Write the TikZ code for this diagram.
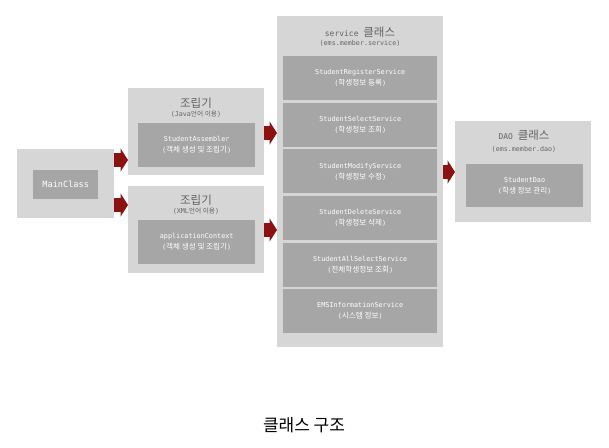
\documentclass[tikz,border=0pt]{standalone}
\usepackage{fontspec}
\usetikzlibrary{arrows.meta}
\newfontfamily\mono{DejaVu Sans Mono}
\newfontfamily\kr{Noto Sans CJK KR}
\newcommand\K[1]{{\kr #1}}
\newcommand\KI[1]{{\kr\fontsize{7.6}{11}\selectfont #1}}
\definecolor{outerc}{RGB}{214,214,214}
\definecolor{innerc}{RGB}{166,166,166}
\definecolor{titlec}{RGB}{100,100,100}
\definecolor{arrc}{RGB}{140,18,18}
\begin{document}
\begin{tikzpicture}[x=1pt,y=-1pt,
  outer/.style={fill=outerc,draw=none,inner sep=0pt,anchor=north west},
  inner/.style={fill=innerc,draw=none,inner sep=0pt,anchor=north west},
  intext/.style={text=white,align=center,inner sep=0pt,font=\mono\fontsize{6.8}{11}\selectfont},
  ttl/.style={text=titlec,inner sep=0pt,font=\mono\fontsize{8}{10}\selectfont},
  sub/.style={text=titlec,inner sep=0pt,font=\mono\fontsize{6.7}{8}\selectfont},
  blockarr/.style={draw=arrc,line width=14pt,-{Triangle[length=7.5pt,width=23pt]},fill=arrc}]
\useasboundingbox (0,0) rectangle (609,447);
% outer boxes
\node[outer,minimum width=97pt,minimum height=69pt] (main) at (17,149) {};
\node[outer,minimum width=136pt,minimum height=87pt] (asm1) at (128,88) {};
\node[outer,minimum width=136pt,minimum height=87pt] (asm2) at (128,186) {};
\node[outer,minimum width=166pt,minimum height=331pt] (svc) at (277,16) {};
\node[outer,minimum width=136pt,minimum height=101pt] (dao) at (455,121) {};
% inner boxes
\node[inner,minimum width=65pt,minimum height=29pt] (mainin) at (33,170) {};
\node[inner,minimum width=117pt,minimum height=44pt] (asm1in) at (138,123) {};
\node[inner,minimum width=117pt,minimum height=44pt] (asm2in) at (138,220) {};
\node[inner,minimum width=117pt,minimum height=43pt] (daoin) at (466,164) {};
\foreach \i in {0,...,5}{
  \node[inner,minimum width=154pt,minimum height=44pt] (s\i) at (283,56+46.6*\i) {};
}
% texts
\node[intext,font=\mono\fontsize{8.6}{10}\selectfont] (tmain) at (mainin.center) {MainClass};
\node[ttl] (t1) at (196,103) {\K{\fontsize{11.5}{12}\selectfont 조립기}};
\node[sub] (t1s) at (196,114) {(Java\K{언어 이용})};
\node[intext] (t1i) at ([yshift=0.5pt]asm1in.center) {StudentAssembler\\(\KI{객체 생성 및 조립기})};
\node[ttl] (t2) at (196,200) {\K{\fontsize{11.5}{12}\selectfont 조립기}};
\node[sub] (t2s) at (196,211) {(XML\K{언어 이용})};
\node[intext] (t2i) at ([yshift=0.5pt]asm2in.center) {applicationContext\\(\KI{객체 생성 및 조립기})};
\node[ttl] (t3) at (360,32) {service \K{\fontsize{11.5}{12}\selectfont 클래스}};
\node[sub] (t3s) at (360,43) {(ems.member.service)};
\node[ttl] (t4) at (524,135) {DAO \K{\fontsize{11.5}{12}\selectfont 클래스}};
\node[sub] (t4s) at (524,149) {(ems.member.dao)};
\node[intext] (t4i) at (daoin.center) {StudentDao\\(\KI{학생 정보 관리})};
\node[intext] (ts0) at (s0.center) {StudentRegisterService\\(\KI{학생정보 등록})};
\node[intext] (ts1) at (s1.center) {StudentSelectService\\(\KI{학생정보 조회})};
\node[intext] (ts2) at (s2.center) {StudentModifyService\\(\KI{학생정보 수정})};
\node[intext] (ts3) at (s3.center) {StudentDeleteService\\(\KI{학생정보 삭제})};
\node[intext] (ts4) at (s4.center) {StudentAllSelectService\\(\KI{전체학생정보 조회})};
\node[intext] (ts5) at (s5.center) {EMSInformationService\\(\KI{시스템 정보})};
% arrows
\coordinate (ya) at (0,160);
\coordinate (yb) at (0,205);
\coordinate (yc) at (0,133);
\coordinate (yd) at (0,230);
\coordinate (ye) at (0,172);
\draw[blockarr] (main.east |- ya) -- (asm1.west |- ya);
\draw[blockarr] (main.east |- yb) -- (asm2.west |- yb);
\draw[blockarr] (asm1.east |- yc) -- (svc.west |- yc);
\draw[blockarr] (asm2.east |- yd) -- (svc.west |- yd);
\draw[blockarr] (svc.east |- ye) -- (dao.west |- ye);
% caption
\node[inner sep=0pt,font=\kr\fontsize{17}{18}\selectfont] (cap) at (304,425) {클래스 구조};
\end{tikzpicture}
\end{document}
